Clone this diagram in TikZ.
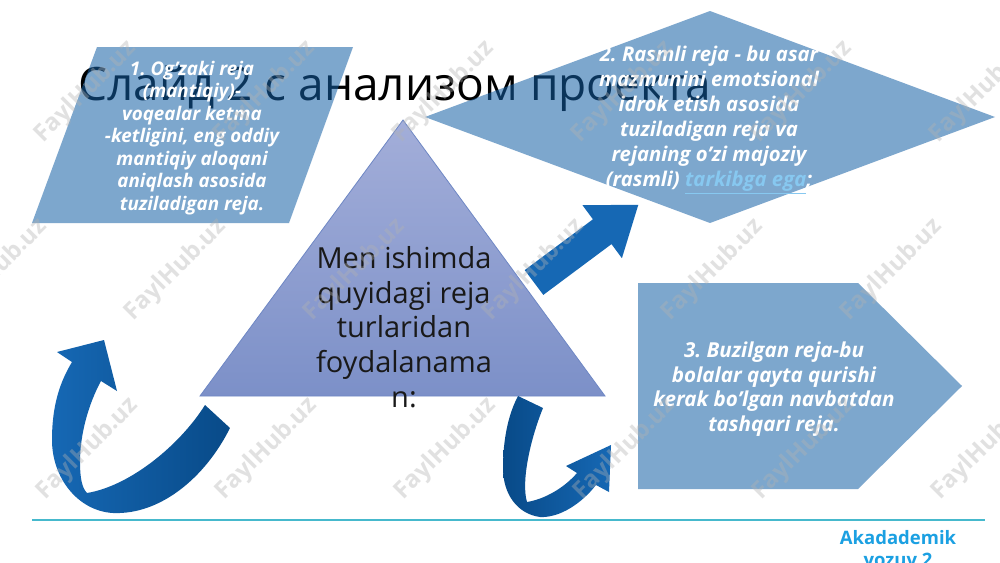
\documentclass[tikz,border=0pt]{standalone}
\usepackage{fontspec}
\setmainfont{Open Sans}
\frenchspacing
\definecolor{shapeblue}{RGB}{20,95,165}
\definecolor{triTop}{RGB}{163,174,217}
\definecolor{triBot}{RGB}{124,144,200}
\definecolor{triEdge}{RGB}{110,135,196}
\definecolor{arrowA}{RGB}{22,104,180}
\definecolor{arrowB}{RGB}{8,74,136}
\definecolor{linkblue}{RGB}{135,200,240}
\definecolor{footline}{RGB}{70,185,205}
\definecolor{footblue}{RGB}{27,160,226}
\begin{document}
\begin{tikzpicture}[x=1pt,y=-1pt,
  panel/.style={fill=shapeblue, fill opacity=0.55},
  paneltext/.style={text=white, align=center, inner sep=0pt},
  ribbon/.style={draw=none},
  wm/.style={text=gray!60, text opacity=0.38, font=\bfseries\fontsize{24}{28}\selectfont, inner sep=0pt}]
\useasboundingbox (0,0) rectangle (1000,562);
\fill[white] (0,0) rectangle (1000,562);

% title
\node[anchor=base west, inner sep=0pt, font=\fontsize{46}{50}\selectfont] (title) at (78,100) {Слайд 2 с анализом проекта};

% panels
\path[panel] (97,47) -- (353,47) -- (289,223) -- (32,223) -- cycle;
\path[panel] (425,117) -- (710,11) -- (995,117) -- (710,223) -- cycle;
\path[panel] (638,283) -- (858,283) -- (962,386) -- (858,489) -- (638,489) -- cycle;

% triangle
\shade[top color=triTop, bottom color=triBot, draw=triEdge, line width=0.8pt] (200,396) -- (403,120) -- (605,396) -- cycle;

% straight arrow
\fill[arrowA] (524.7,270.1) -- (592.9,219.3) -- (582.5,205.2) -- (638.3,204.8) -- (621.9,258.2) -- (611.5,244.1) -- (543.3,294.9) -- cycle;

% left curved arrow
\shade[ribbon, left color=arrowA, right color=arrowB] (230,428) .. controls (205,478) and (160,515) .. (113,513) .. controls (78,511) and (52,478) .. (52,440) .. controls (52,405) and (60,382) .. (72,362) -- (57,352) -- (104,340) -- (117,391) -- (101,381) .. controls (88,405) and (80,435) .. (80,462) .. controls (80,478) and (82,488) .. (87,493) .. controls (130,486) and (180,445) .. (205,405) -- cycle;

% middle curved arrow
\shade[ribbon, left color=arrowB, right color=arrowA] (518,396) -- (543,408) .. controls (530,440) and (521,482) .. (527,502) .. controls (545,499) and (564,488) .. (577,473) -- (566,466) -- (611,445) -- (609,492) -- (596,485) .. controls (582,503) and (560,518) .. (540,517) .. controls (518,514) and (503,495) .. (503,468) .. controls (503,440) and (508,415) .. (518,396) -- cycle;

% texts
\node[paneltext, font=\bfseries\itshape\fontsize{18.8}{22.5}\selectfont] (t1) at (192,138) {1. Og’zaki reja\\(mantiqiy)-\\voqealar ketma\\-ketligini, eng oddiy\\mantiqiy aloqani\\aniqlash asosida\\tuziladigan reja.};
\node[paneltext, font=\bfseries\itshape\fontsize{20.3}{25}\selectfont] (t2) at (709,120) {2. Rasmli reja - bu asar\\mazmunini emotsional\\idrok etish asosida\\tuziladigan reja va\\rejaning o{\char"27}zi majoziy\\(rasmli) \textcolor{linkblue}{\underline{tarkibga ega}};};
\node[paneltext, font=\bfseries\itshape\fontsize{20.6}{24.7}\selectfont] (t3) at (774,389) {3. Buzilgan reja-bu\\bolalar qayta qurishi\\kerak bo{\char"27}lgan navbatdan\\tashqari reja.};
\node[align=center, inner sep=0pt, text=black!90, font=\fontsize{29}{34.75}\selectfont] (t0) at (404,327) {Men ishimda\\quyidagi reja\\turlaridan\\foydalanama\\n:};

% footer
\draw[footline, line width=1.5pt] (32,520) coordinate (fl) -- (985,520) coordinate (fr);
\node[anchor=north, align=center, inner sep=0pt, text=footblue, font=\bfseries\fontsize{18.5}{22}\selectfont] (foot) at (898,530) {Akadademik\\yozuv 2};

% watermarks
\foreach \r/\yy/\off in {0/92/0, 1/270/-89, 2/449/2}
  \foreach \c in {0,...,5}
    \node[wm, rotate=45] (wm-\r-\c) at ({86+179*\c+\off},\yy) {FaylHub.uz};
\end{tikzpicture}
\end{document}
